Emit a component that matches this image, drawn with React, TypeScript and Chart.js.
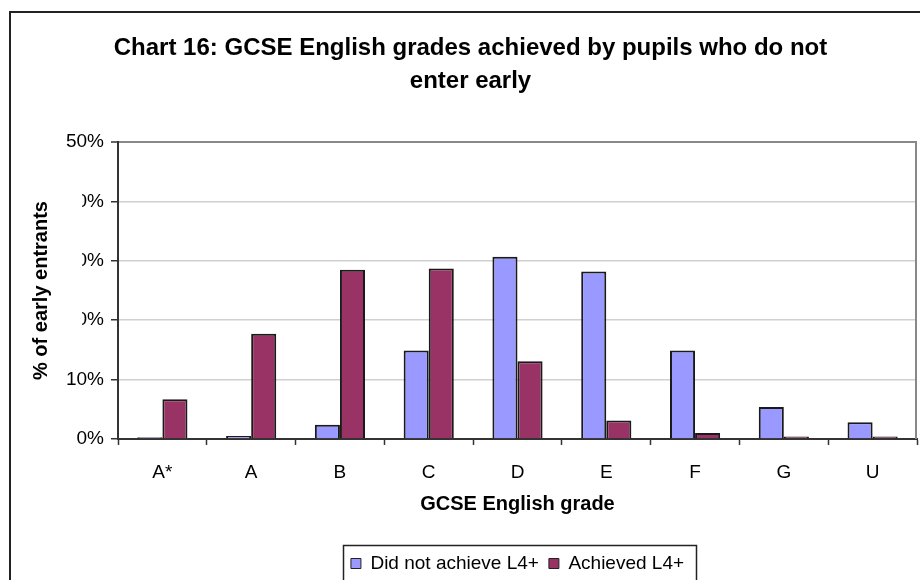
import React, { useEffect, useRef } from "react";
import { Chart, registerables } from "chart.js";

Chart.register(...registerables);

const categories = ["A*", "A", "B", "C", "D", "E", "F", "G", "U"];
const didNotAchieve = [0.3, 0.5, 2.4, 14.9, 30.7, 28.2, 14.9, 5.4, 2.8];
const achieved = [6.7, 17.7, 28.5, 28.7, 13.1, 3.1, 1.0, 0.4, 0.4];
const seriesNames = ["Did not achieve L4+", "Achieved L4+"];
const yTicks = [0, 10, 20, 30, 40, 50];
const titleLines = ["Chart 16: GCSE English grades achieved by pupils who do not", "enter early"];
const xTitle = "GCSE English grade";
const yTitle = "% of early entrants";

const FONT = "'Liberation Sans', Arial, sans-serif";

const decorPlugin = {
  id: "decor",
  afterDraw(chart: any) {
    const ctx = chart.ctx;
    const a = chart.chartArea;
    ctx.save();
    // plot area right border
    ctx.strokeStyle = "#888";
    ctx.lineWidth = 2;
    ctx.beginPath();
    ctx.moveTo(a.right - 1, a.top);
    ctx.lineTo(a.right - 1, a.bottom);
    ctx.stroke();
    // y-axis title with white backing (covers part of tick labels)
    ctx.fillStyle = "#fff";
    ctx.fillRect(14, 180, 68, 190);
    ctx.translate(41, (a.top + a.bottom) / 2);
    ctx.rotate(-Math.PI / 2);
    ctx.fillStyle = "#000";
    ctx.font = `bold 20px ${FONT}`;
    ctx.textAlign = "center";
    ctx.textBaseline = "middle";
    ctx.fillText(yTitle, 0, 0);
    ctx.restore();
    // outer border
    ctx.save();
    ctx.strokeStyle = "#222";
    ctx.lineWidth = 2;
    ctx.strokeRect(10, 12, 1000, 1000);
    // legend border
    const lg = chart.legend;
    if (lg && lg.legendHitBoxes && lg.legendHitBoxes.length) {
      const hb = lg.legendHitBoxes;
      const left = hb[0].left - 8;
      const last = hb[hb.length - 1];
      const right = last.left + last.width + 12;
      ctx.lineWidth = 1.5;
      ctx.strokeRect(Math.round(left) + 0.5, Math.round(lg.top + 1) + 0.5, Math.round(right - left), 100);
    }
    ctx.restore();
  },
};

export default function App() {
  const ref = useRef<HTMLCanvasElement | null>(null);
  useEffect(() => {
    if (!ref.current) return;
    const chart = new Chart(ref.current, {
      type: "bar",
      data: {
        labels: categories,
        datasets: [
          {
            label: seriesNames[0],
            data: didNotAchieve,
            backgroundColor: "#9999FF",
            borderColor: "#1a1a1a",
            borderWidth: 2,
            categoryPercentage: 0.565,
            barPercentage: 1,
          },
          {
            label: seriesNames[1],
            data: achieved,
            backgroundColor: "#993366",
            borderColor: "#1a1a1a",
            borderWidth: 2,
            categoryPercentage: 0.565,
            barPercentage: 1,
          },
        ],
      },
      options: {
        responsive: false,
        animation: false,
        devicePixelRatio: 1,
        layout: { padding: { left: 24, right: 3, top: 0, bottom: -3 } },
        plugins: {
          title: {
            display: true,
            text: titleLines,
            color: "#000",
            font: { family: FONT, size: 24, weight: "bold", lineHeight: 1.375 },
            padding: { top: 32, bottom: 44 },
          },
          legend: {
            display: true,
            position: "bottom",
            fullSize: false,
            labels: {
              color: "#000",
              font: { family: FONT, size: 19 },
              boxWidth: 10,
              boxHeight: 10,
              padding: 10,
              generateLabels(c: any) {
                const items = Chart.defaults.plugins.legend.labels.generateLabels(c);
                return items.map((it: any) => ({ ...it, lineWidth: 1, strokeStyle: "#222" }));
              },
            },
          },
          tooltip: { enabled: false },
        },
        scales: {
          x: {
            offset: true,
            afterFit(scale: any) {
              scale.height = 105;
            },
            grid: {
              display: true,
              offset: true,
              drawOnChartArea: false,
              drawTicks: true,
              tickLength: 6,
              color: "#333",
              tickColor: "#333",
              tickWidth: 1.5,
            },
            border: { display: true, color: "#333", width: 2 },
            ticks: { color: "#000", font: { family: FONT, size: 19 }, padding: 16 },
            title: {
              display: true,
              text: xTitle,
              color: "#000",
              font: { family: FONT, size: 20, weight: "bold", lineHeight: 1.2 },
              padding: { top: 0, bottom: 28 },
            },
          },
          y: {
            min: 0,
            max: 50,
            afterFit(scale: any) {
              scale.width = 94;
            },
            afterBuildTicks(scale: any) {
              scale.ticks = yTicks.map((v) => ({ value: v }));
            },
            grid: {
              color: (ctx: any) => (ctx.tick && ctx.tick.value === 50 ? "#888" : "#d0d0d0"),
              lineWidth: (ctx: any) => (ctx.tick && ctx.tick.value === 50 ? 2 : 1.5),
              tickColor: "#333",
              tickLength: 7,
              tickWidth: 1.5,
            },
            border: { display: true, color: "#333", width: 2 },
            ticks: {
              color: "#000",
              font: { family: FONT, size: 19 },
              padding: 7,
              callback: (v: any) => `${v}%`,
            },
            title: { display: false },
          },
        },
      },
      plugins: [decorPlugin],
    } as any);
    return () => chart.destroy();
  }, []);
  return (
    <div style={{ position: "fixed", left: 0, top: 0, width: 920, height: 580, background: "#fff" }}>
      <canvas ref={ref} width={920} height={580} style={{ display: "block" }} />
    </div>
  );
}
